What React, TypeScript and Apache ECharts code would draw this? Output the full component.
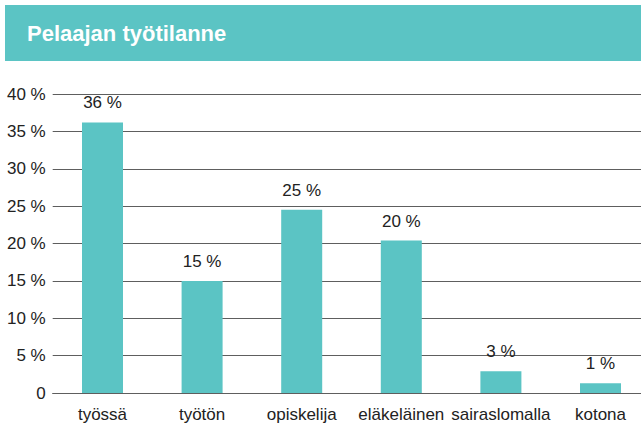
import React, { useEffect, useRef } from "react";
import * as echarts from "echarts";

const title = "Pelaajan työtilanne";
const categories = ["työssä", "työtön", "opiskelija", "eläkeläinen", "sairaslomalla", "kotona"];
const values = [36.2, 15.0, 24.5, 20.4, 2.9, 1.3];
const valueLabels = ["36 %", "15 %", "25 %", "20 %", "3 %", "1 %"];
const yTicks = [0, 5, 10, 15, 20, 25, 30, 35, 40];

const TEAL = "#5bc4c4";
const GRID = "#5e5e5e";
const TEXT = "#222222";
const FONT = "'Liberation Sans', Arial, Helvetica, sans-serif";

export default function App() {
  const ref = useRef<HTMLDivElement>(null);
  useEffect(() => {
    if (!ref.current) return;
    const chart = echarts.init(ref.current, null, { renderer: "svg" });
    chart.setOption({
      animation: false,
      backgroundColor: "#ffffff",
      textStyle: { fontFamily: FONT },
      graphic: [
        {
          type: "rect",
          shape: { x: 5, y: 5, width: 660, height: 56 },
          style: { fill: TEAL },
          silent: true,
        },
        {
          type: "text",
          x: 27,
          y: 33,
          style: {
            text: title,
            fill: "#ffffff",
            font: `bold 22px ${FONT}`,
            textVerticalAlign: "middle",
          },
        },
      ],
      grid: { left: 52.7, right: 9.7, top: 94, bottom: 32, containLabel: false },
      xAxis: {
        type: "category",
        data: categories,
        axisLine: { show: true, lineStyle: { color: GRID, width: 1 } },
        axisTick: { show: false },
        axisLabel: { color: TEXT, fontSize: 17, margin: 13, interval: 0, fontFamily: FONT },
      },
      yAxis: {
        type: "value",
        min: 0,
        max: 40,
        interval: 5,
        axisLine: { show: false },
        axisTick: { show: false },
        splitLine: { show: true, lineStyle: { color: GRID, width: 1 } },
        axisLabel: {
          color: TEXT,
          fontSize: 17,
          margin: 7,
          fontFamily: FONT,
          formatter: (v: number) => (yTicks.includes(v) ? (v === 0 ? "0" : `${v} %`) : ""),
        },
      },
      series: [
        {
          type: "bar",
          data: values,
          barWidth: 41,
          itemStyle: { color: TEAL },
          label: {
            show: true,
            position: "top",
            distance: 11,
            color: TEXT,
            fontSize: 17,
            fontFamily: FONT,
            formatter: (p: any) => valueLabels[p.dataIndex],
          },
        },
      ],
    });
    return () => chart.dispose();
  }, []);
  return (
    <div
      ref={ref}
      style={{ position: "fixed", left: 0, top: 0, width: 660, height: 425 }}
    />
  );
}
